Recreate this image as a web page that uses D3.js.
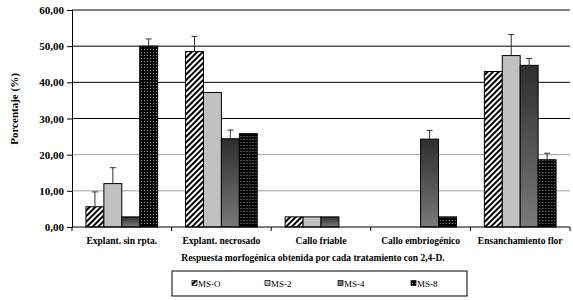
<!DOCTYPE html>
<html lang="es">
<head>
<meta charset="UTF-8">
<title>Respuesta morfogénica</title>
<script src="https://d3js.org/d3.v7.min.js"></script>
<style>
  body { margin: 0; background: #fff; }
  text { font-family: "Liberation Serif", "Times New Roman", serif; fill: #000; }
  .bold { font-weight: bold; }
</style>
</head>
<body>
<svg id="chart" width="573" height="300"></svg>
<script>
// data
const categories = ['Explant. sin rpta.', 'Explant. necrosado', 'Callo friable', 'Callo embriogénico', 'Ensanchamiento flor'];
const series = ['MS-O', 'MS-2', 'MS-4', 'MS-8'];
const msO = [5.6, 48.5, 2.8, 0, 43.0];
const ms2 = [12.0, 37.2, 2.8, 0, 47.4];
const ms4 = [2.8, 24.4, 2.8, 24.3, 44.7];
const ms8 = [50.0, 25.8, 0, 2.8, 18.6];
// upper error bar (null = none)
const errO = [4.1, 4.2, null, null, null];
const err2 = [4.4, null, null, null, 5.8];
const err4 = [null, 2.4, null, 2.4, 1.9];
const err8 = [2.0, null, null, null, 1.8];
const yTicks = [0, 10, 20, 30, 40, 50, 60];

const values = [msO, ms2, ms4, ms8];
const errs = [errO, err2, err4, err8];

const svg = d3.select('#chart');
const margin = { left: 72, right: 3, top: 10, bottom: 73 };
const W = 573, H = 300;

const defs = svg.append('defs');
// MS-O: diagonal hatching
const hatch = defs.append('pattern').attr('id', 'hatch')
  .attr('patternUnits', 'userSpaceOnUse').attr('width', 4).attr('height', 4)
  .attr('patternTransform', 'rotate(45)');
hatch.append('rect').attr('width', 4).attr('height', 4).attr('fill', '#fff');
hatch.append('rect').attr('width', 2).attr('height', 4).attr('fill', '#000');
// MS-4: dark gradient
const grad = defs.append('linearGradient').attr('id', 'grad4')
  .attr('x1', 0).attr('y1', 0).attr('x2', 0).attr('y2', 1);
grad.append('stop').attr('offset', '0%').attr('stop-color', '#2e2e2e');
grad.append('stop').attr('offset', '100%').attr('stop-color', '#7a7a7a');
// MS-8: black with small dots
const dots = defs.append('pattern').attr('id', 'dots')
  .attr('patternUnits', 'userSpaceOnUse').attr('width', 3).attr('height', 3);
dots.append('rect').attr('width', 3).attr('height', 3).attr('fill', '#000');
dots.append('rect').attr('x', 1).attr('y', 1).attr('width', 1).attr('height', 1).attr('fill', '#9a9a9a');

const fills = ['url(#hatch)', '#c0c0c0', 'url(#grad4)', 'url(#dots)'];
const legFills = ['url(#hatch)', '#c0c0c0', '#777', 'url(#dots)'];

const x0 = d3.scaleBand().domain(categories).range([margin.left, W - margin.right]).paddingInner(0.28).paddingOuter(0.14);
const x1 = d3.scaleBand().domain(series).range([0, x0.bandwidth()]);
const y = d3.scaleLinear().domain([0, 60]).range([H - margin.bottom, margin.top]);

// gridlines
svg.append('g').selectAll('line').data(yTicks.filter(d => d > 0)).join('line')
  .attr('x1', margin.left).attr('x2', W - margin.right)
  .attr('y1', d => y(d)).attr('y2', d => y(d))
  .attr('stroke', d => d <= 20 ? '#a0a0a0' : '#000').attr('stroke-width', 1);

// bars
const groups = svg.append('g').selectAll('g').data(categories).join('g')
  .attr('transform', d => `translate(${x0(d)},0)`);

groups.each(function(cat, ci) {
  const g = d3.select(this);
  series.forEach((s, si) => {
    const v = values[si][ci];
    if (!v) return;
    g.append('rect')
      .attr('x', x1(s)).attr('width', x1.bandwidth())
      .attr('y', y(v)).attr('height', y(0) - y(v))
      .attr('fill', fills[si]).attr('stroke', '#000').attr('stroke-width', 1);
    const e = errs[si][ci];
    if (e) {
      const cx = x1(s) + x1.bandwidth() / 2;
      g.append('line').attr('x1', cx).attr('x2', cx).attr('y1', y(v)).attr('y2', y(v + e))
        .attr('stroke', '#333').attr('stroke-width', 1);
      g.append('line').attr('x1', cx - 3).attr('x2', cx + 3).attr('y1', y(v + e)).attr('y2', y(v + e))
        .attr('stroke', '#333').attr('stroke-width', 1);
    }
  });
});

// y axis
const yAxis = svg.append('g').attr('transform', `translate(${margin.left},0)`)
  .call(d3.axisLeft(y).tickValues(yTicks).tickSize(5).tickFormat(d => d3.format('.2f')(d).replace('.', ',')));
yAxis.select('.domain').attr('stroke', '#000');
yAxis.selectAll('text').attr('class', 'bold').style('font-size', '11px').attr('x', -8)
  .style('font-family', '"Liberation Serif", serif');

// x axis with ticks at category boundaries
const xAxisY = y(0);
svg.append('line').attr('x1', margin.left).attr('x2', W - margin.right)
  .attr('y1', xAxisY).attr('y2', xAxisY).attr('stroke', '#000');
const step = x0.step();
svg.append('g').selectAll('line').data(d3.range(categories.length + 1)).join('line')
  .attr('x1', i => margin.left + i * step).attr('x2', i => margin.left + i * step)
  .attr('y1', xAxisY).attr('y2', xAxisY + 4).attr('stroke', '#000');
svg.append('g').selectAll('text').data(categories).join('text')
  .attr('class', 'bold')
  .attr('x', d => x0(d) + x0.bandwidth() / 2).attr('y', xAxisY + 17)
  .attr('text-anchor', 'middle').style('font-size', '9.5px').text(d => d);

// axis titles
svg.append('text').attr('class', 'bold').attr('x', 313).attr('y', 261)
  .attr('text-anchor', 'middle').style('font-size', '9.5px')
  .text('Respuesta morfogénica obtenida por cada tratamiento con 2,4-D.');
svg.append('text').attr('class', 'bold')
  .attr('transform', `translate(14,109) rotate(-90)`)
  .attr('dy', '0.35em')
  .attr('text-anchor', 'middle').style('font-size', '11px').text('Porcentaje (%)');

// legend
const leg = svg.append('g');
leg.append('rect').attr('x', 172).attr('y', 271).attr('width', 295).attr('height', 25)
  .attr('fill', '#fff').attr('stroke', '#000');
const legX = [192, 265, 338, 411];
series.forEach((s, i) => {
  leg.append('rect').attr('x', legX[i]).attr('y', 280.5).attr('width', 5).attr('height', 5)
    .attr('fill', legFills[i]).attr('stroke', '#000').attr('stroke-width', 0.7);
  leg.append('text').attr('x', legX[i] + 6).attr('y', 287).style('font-size', '9px').text(s);
});
</script>
</body>
</html>
